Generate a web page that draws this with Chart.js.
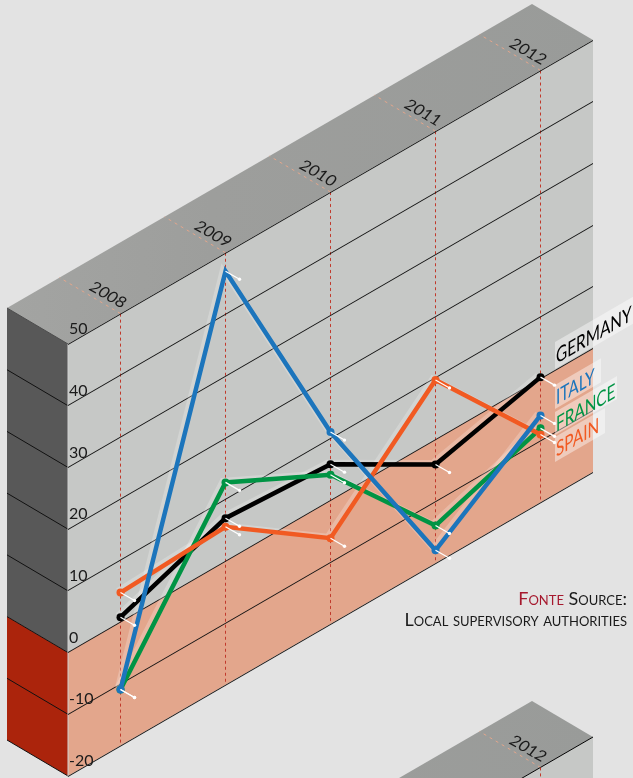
<!DOCTYPE html>
<html><head><meta charset="utf-8">
<style>html,body{margin:0;padding:0;background:#e3e3e3;overflow:hidden}canvas{display:block}</style>
<script src="https://cdn.jsdelivr.net/npm/chart.js@4"></script>
</head><body><canvas id="c" width="633" height="778"></canvas>
<script>
const years = ['2008','2009','2010','2011','2012'];
const germany = [0.8, 7.0, 5.9, -4.0, 0.3];
const italy = [-10.9, 47.0, 11.1, -17.9, -5.9];
const france = [-10.9, 12.8, 4.2, -13.9, -8.0];
const spain = [4.8, 5.6, -6.1, 9.7, -9.0];
const seriesNames = ['GERMANY','ITALY','FRANCE','SPAIN'];
const seriesColors = ['#000000','#1c75bc','#009444','#f15a22'];
const seriesValues = [germany, italy, france, spain];
const yMin = -20, yMax = 50, yStep = 10;

const K = 0.579, DEPTH = 61, DEPTHK = 0.59, PANEL2 = 697;
const FONT = 'Lato, "Open Sans", sans-serif';
const shearX = 68;
const sy = (x, y) => y - K * (x - shearX);

function poly(ctx, pts, fill) {
  ctx.beginPath();
  pts.forEach((p, i) => i ? ctx.lineTo(p[0], p[1]) : ctx.moveTo(p[0], p[1]));
  ctx.closePath();
  ctx.fillStyle = fill;
  ctx.fill();
}
function hline(ctx, a, b, col, w, dash) {
  ctx.save();
  ctx.beginPath(); ctx.moveTo(a[0], a[1]); ctx.lineTo(b[0], b[1]);
  ctx.strokeStyle = col; ctx.lineWidth = w; ctx.setLineDash(dash || []);
  ctx.stroke(); ctx.restore();
}
function drawBlock(ctx, chart, dy, full) {
  const a = chart.chartArea, ys = chart.scales.y;
  const L = a.left, R = a.right, T = ys.getPixelForValue(yMax) + dy, Z = ys.getPixelForValue(0) + dy, B = ys.getPixelForValue(yMin) + dy;
  const dx = DEPTH, ddy = dx * DEPTHK;
  const g = ctx.createLinearGradient(L - dx, 0, R, 0);
  g.addColorStop(0, '#a3a4a2'); g.addColorStop(0.35, '#9d9e9c'); g.addColorStop(1, '#999b99');
  poly(ctx, [[L - dx, T - ddy], [L, T], [R, sy(R, T)], [R - dx, sy(R, T) - ddy]], g);
  poly(ctx, [[L, T], [R, sy(R, T)], [R, sy(R, Z)], [L, Z]], '#c6c8c6');
  poly(ctx, [[L, Z], [R, sy(R, Z)], [R, sy(R, B)], [L, B]], '#e3a68c');
  if (full) {
    poly(ctx, [[L - dx, T - ddy], [L, T], [L, Z], [L - dx, Z - ddy]], '#585858');
    poly(ctx, [[L - dx, Z - ddy], [L, Z], [L, B], [L - dx, B - ddy]], '#ab240c');
    for (let v = yMin; v <= yMax; v += yStep) {
      const p = ys.getPixelForValue(v);
      hline(ctx, [L - dx, p - ddy], [L, p], v === yMax ? '#4a4a4a' : '#111', 1);
    }
    hline(ctx, [L, T], [L, B], '#d0d0d0', 1);
  }
  chart.scales.x.ticks.forEach((t, i) => {
    const x = chart.scales.x.getPixelForTick(i), y = sy(x, T);
    if (y - ddy > 778) return;
    hline(ctx, [x, y], [x - dx, y - ddy], '#e3a68c', 1, [3, 4]);
  });
}
function drawYear(ctx, chart, label, i, dy) {
  const x = chart.scales.x.getPixelForTick(i);
  const y = sy(x, chart.scales.y.getPixelForValue(yMax) + dy);
  if (y > 790) return;
  ctx.save();
  ctx.setTransform(0.9, 0.52, -0.62, 0.78, x + 1, y - 5);
  ctx.font = '16px ' + FONT; ctx.textAlign = 'right'; ctx.textBaseline = 'alphabetic';
  ctx.fillStyle = '#1a1a1a';
  ctx.fillText(label, 0, 0);
  ctx.restore();
}
const labelBoxes = {
  GERMANY: {base: 364, top: 22, h: 27, w: 90},
  ITALY: {base: 405, top: 20, h: 24, w: 46},
  FRANCE: {base: 432, top: 20, h: 23, w: 62},
  SPAIN: {base: 457, top: 20, h: 25, w: 50}
};
function drawSeriesLabel(ctx, name, color, x) {
  const b = labelBoxes[name];
  ctx.save();
  ctx.setTransform(1, -K, 0, 1, x, b.base);
  ctx.fillStyle = 'rgba(255,255,255,0.42)';
  ctx.fillRect(0, -b.top, b.w, b.h);
  ctx.setTransform(0.73, -K * 0.73, 0, 1, x + 1, b.base);
  ctx.font = '21px ' + FONT; ctx.fillStyle = color; ctx.textBaseline = 'alphabetic'; ctx.textAlign = 'left';
  ctx.fillText(name, 0, 0);
  ctx.restore();
}
function drawSource(ctx) {
  ctx.save();
  ctx.font = 'small-caps 18px ' + FONT; ctx.textBaseline = 'alphabetic'; ctx.textAlign = 'left';
  const a = 'Fonte', b = ' Source:', c = 'Local supervisory authorities';
  const wb = ctx.measureText(b).width, wa = ctx.measureText(a).width;
  ctx.fillStyle = '#a6192e'; ctx.fillText(a, 627 - wb - wa, 605);
  ctx.fillStyle = '#1a1a1a'; ctx.fillText(b, 627 - wb, 605);
  ctx.fillText(c, 627 - ctx.measureText(c).width, 626);
  ctx.restore();
}

const iso = {
  id: 'iso',
  afterDatasetsUpdate(chart) {
    chart.data.datasets.forEach((ds, i) => {
      chart.getDatasetMeta(i).data.forEach(pt => { pt.y = sy(pt.x, pt.y); });
    });
  },
  beforeDraw(chart) {
    const ctx = chart.ctx;
    drawBlock(ctx, chart, PANEL2, false);
    const a = chart.chartArea, ys = chart.scales.y, T2 = ys.getPixelForValue(yMax) + PANEL2;
    const x4 = chart.scales.x.getPixelForTick(4);
    hline(ctx, [a.right - 80, sy(a.right - 80, T2)], [a.right, sy(a.right, T2)], '#000', 1);
    hline(ctx, [x4, sy(x4, T2)], [x4, 778], '#c1392b', 1, [3, 3]);
    drawYear(ctx, chart, years[4], 4, PANEL2);
    drawBlock(ctx, chart, 0, true);
    ctx.save();
    ctx.transform(1, -K, 0, 1, 0, K * shearX);
  },
  beforeDatasetsDraw(chart) { chart.ctx.restore(); },
  beforeDatasetDraw(chart, args) {
    const ds = chart.data.datasets[args.index];
    chart.ctx.save();
    if (ds.halo) chart.ctx.translate(-3, -2);
  },
  afterDatasetDraw(chart) { chart.ctx.restore(); },
  afterDatasetsDraw(chart) {
    const ctx = chart.ctx;
    chart.data.datasets.forEach((ds, i) => {
      if (ds.halo) return;
      chart.getDatasetMeta(i).data.forEach(pt => {
        hline(ctx, [pt.x, pt.y], [pt.x + 14, pt.y + 8], '#fff', 1.2);
        ctx.beginPath(); ctx.arc(pt.x + 14, pt.y + 8, 1.7, 0, Math.PI * 2);
        ctx.fillStyle = '#fff'; ctx.fill();
      });
    });
    ctx.save();
    ctx.translate(0, -15);
  },
  afterDraw(chart) {
    const ctx = chart.ctx;
    ctx.restore();
    years.forEach((y, i) => drawYear(ctx, chart, y, i, 0));
    seriesNames.forEach((n, i) => drawSeriesLabel(ctx, n, seriesColors[i], 555));
    drawSource(ctx);
  }
};

const haloSets = seriesValues.map(v => ({
  data: v, halo: true, borderColor: 'rgba(255,255,255,0.22)', borderWidth: 5,
  pointRadius: 0, tension: 0, clip: false, order: 10
}));
const lineOrder = [4, 1, 3, 2];
const mainSets = seriesValues.map((v, i) => ({
  label: seriesNames[i], data: v, borderColor: seriesColors[i], backgroundColor: seriesColors[i],
  borderWidth: 4.5, pointRadius: 4, pointBorderWidth: 0, tension: 0, clip: false, order: lineOrder[i]
}));

new Chart(document.getElementById('c'), {
  type: 'line',
  data: {labels: years, datasets: haloSets.concat(mainSets)},
  options: {
    responsive: false, animation: false, events: [],
    layout: {padding: {left: 68, right: 40, top: 344, bottom: 2}, autoPadding: false},
    plugins: {legend: {display: false}, tooltip: {enabled: false}, title: {display: false}},
    scales: {
      x: {
        type: 'category', offset: true,
        afterFit(s) { s.height = 0; },
        grid: {color: '#c1392b', lineWidth: 1, drawTicks: false, offset: false},
        border: {display: false, dash: [3, 3]},
        ticks: {display: false}
      },
      y: {
        min: yMin, max: yMax,
        afterFit(s) { s.width = 0; s.paddingTop = 0; s.paddingBottom = 0; },
        grid: {color: '#111', lineWidth: 1, drawTicks: false},
        border: {display: false},
        ticks: {
          stepSize: yStep, mirror: true, padding: 1, z: 1, color: '#1a1a1a',
          font: {family: FONT, size: 16}
        }
      }
    }
  },
  plugins: [iso]
});
</script></body></html>
